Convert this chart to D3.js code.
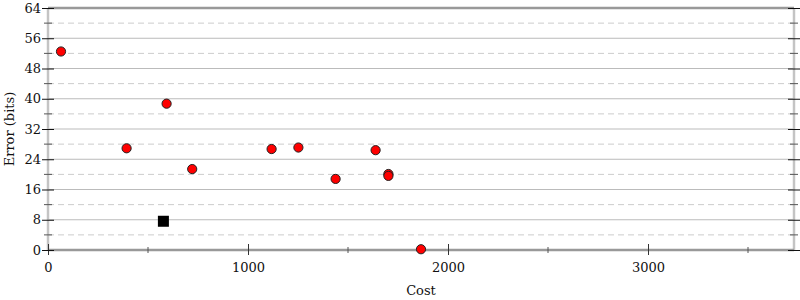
<!DOCTYPE html>
<html>
<head>
<meta charset="utf-8">
<script src="https://cdn.jsdelivr.net/npm/d3@7"></script>
<style>
  body { margin: 0; background: #fff; }
  svg text { font-family: "DejaVu Serif"; font-size: 13px; fill: #111; }
</style>
</head>
<body>
<div id="chart"></div>
<script>
// red points (cost, error in bits)
const costs  = [65, 393, 593, 721, 1118, 1252, 1438, 1638, 1702, 1702, 1865];
const errors = [52.5, 26.9, 38.7, 21.4, 26.7, 27.1, 18.8, 26.4, 20.1, 19.6, 0.2];
// black square point
const squareCost = [577];
const squareError = [7.6];

const xTicks = [0, 1000, 2000, 3000];
const xMinor = [500, 1500, 2500, 3500];
const yTicks = [0, 8, 16, 24, 32, 40, 48, 56, 64];
const yMinor = [4, 12, 20, 28, 36, 44, 52, 60];

const width = 800;
const height = 300;
const marginTop = 8;
const marginBottom = 50;
const marginLeft = 48;
const marginRight = 6;

const x = d3.scaleLinear()
    .domain([0, 3730])
    .range([marginLeft, width - marginRight]);

const y = d3.scaleLinear()
    .domain([0, 64])
    .range([height - marginBottom, marginTop]);

const svg = d3.select("#chart").append("svg")
    .attr("width", width)
    .attr("height", height)
    .attr("viewBox", [0, 0, width, height]);

// grid
svg.append("g")
    .selectAll("line")
    .data(yTicks.slice(1, -1))
    .join("line")
      .attr("x1", marginLeft).attr("x2", width - marginRight)
      .attr("y1", d => y(d)).attr("y2", d => y(d))
      .attr("stroke", "#bbb");

svg.append("g")
    .selectAll("line")
    .data(yMinor)
    .join("line")
      .attr("x1", marginLeft).attr("x2", width - marginRight)
      .attr("y1", d => y(d)).attr("y2", d => y(d))
      .attr("stroke", "#ccc")
      .attr("stroke-dasharray", "6,4");

// frame
svg.append("line")
    .attr("x1", marginLeft).attr("x2", marginLeft)
    .attr("y1", y(0)).attr("y2", y(64))
    .attr("stroke", "#c4c4c4").attr("stroke-width", 2.5);
svg.append("line")
    .attr("x1", width - marginRight).attr("x2", width - marginRight)
    .attr("y1", y(0)).attr("y2", y(64))
    .attr("stroke", "#c4c4c4").attr("stroke-width", 2.5);
svg.append("line")
    .attr("x1", marginLeft).attr("x2", width - marginRight)
    .attr("y1", y(64)).attr("y2", y(64))
    .attr("stroke", "#999").attr("stroke-width", 2.5);
svg.append("line")
    .attr("x1", marginLeft).attr("x2", width - marginRight)
    .attr("y1", y(0)).attr("y2", y(0))
    .attr("stroke", "#999").attr("stroke-width", 2.5);

// x axis
svg.append("g")
    .attr("transform", `translate(0,${y(0) + 6})`)
    .call(d3.axisBottom(x).tickValues(xTicks).tickFormat(d3.format("d")).tickSize(12).tickPadding(-5))
    .call(g => g.select(".domain").remove())
    .call(g => g.selectAll(".tick line").attr("y1", -12).attr("y2", -1).attr("stroke", "#333"));

svg.append("g")
    .selectAll("line")
    .data(xMinor)
    .join("line")
      .attr("x1", d => x(d)).attr("x2", d => x(d))
      .attr("y1", y(0) - 3).attr("y2", y(0) + 3)
      .attr("stroke", "#555");

// y axis (left)
svg.append("g")
    .attr("transform", `translate(${marginLeft + 6},0)`)
    .call(d3.axisLeft(y).tickValues(yTicks).tickSize(12).tickPadding(1))
    .call(g => g.select(".domain").remove())
    .call(g => g.selectAll(".tick line").attr("stroke", "#111"));

svg.append("g")
    .selectAll("line")
    .data(yMinor)
    .join("line")
      .attr("x1", marginLeft - 4).attr("x2", marginLeft + 4)
      .attr("y1", d => y(d)).attr("y2", d => y(d))
      .attr("stroke", "#555");

// y axis (right), ticks only
svg.append("g")
    .attr("transform", `translate(${width - marginRight + 6},0)`)
    .call(d3.axisLeft(y).tickValues(yTicks).tickSize(12).tickFormat(""))
    .call(g => g.select(".domain").remove())
    .call(g => g.selectAll(".tick line").attr("stroke", "#111"));

svg.append("g")
    .selectAll("line")
    .data(yMinor)
    .join("line")
      .attr("x1", width - marginRight - 4).attr("x2", width - marginRight + 4)
      .attr("y1", d => y(d)).attr("y2", d => y(d))
      .attr("stroke", "#555");

// axis titles
svg.append("text")
    .attr("x", (marginLeft + width - marginRight) / 2)
    .attr("y", 295)
    .attr("text-anchor", "middle")
    .text("Cost");

svg.append("text")
    .attr("transform", `translate(14,${(y(0) + y(64)) / 2}) rotate(-90)`)
    .attr("text-anchor", "middle")
    .text("Error (bits)");

// points
svg.append("g")
    .selectAll("circle")
    .data(d3.zip(costs, errors))
    .join("circle")
      .attr("cx", d => x(d[0]))
      .attr("cy", d => y(d[1]))
      .attr("r", 4.6)
      .attr("fill", "#f00")
      .attr("stroke", "#222")
      .attr("stroke-width", 1);

svg.append("g")
    .selectAll("rect")
    .data(d3.zip(squareCost, squareError))
    .join("rect")
      .attr("x", d => x(d[0]) - 5.5)
      .attr("y", d => y(d[1]) - 5.5)
      .attr("width", 11)
      .attr("height", 11)
      .attr("fill", "#000");
</script>
</body>
</html>
